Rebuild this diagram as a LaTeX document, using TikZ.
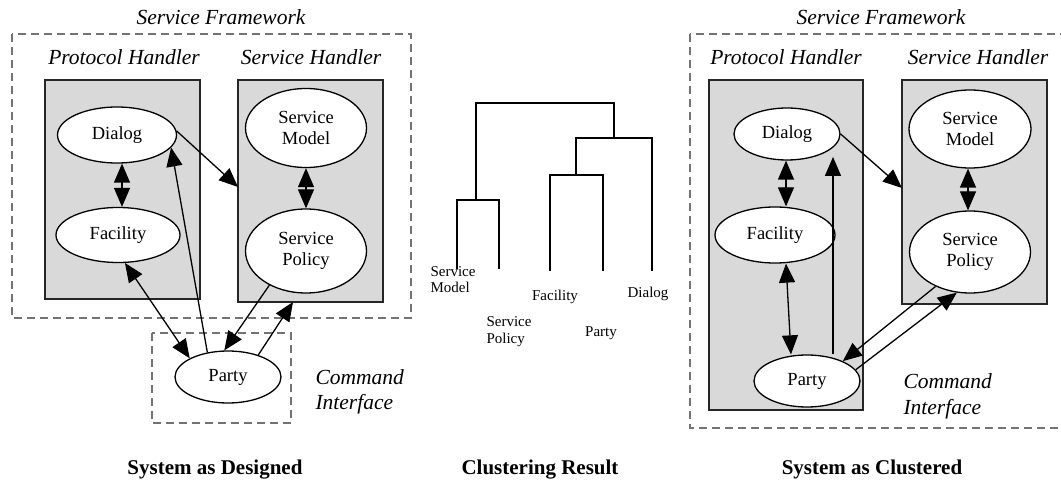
\documentclass[tikz,border=0pt]{standalone}
\usepackage{fontspec}
\setmainfont{Liberation Serif}
\usetikzlibrary{shapes.geometric,arrows.meta}

\tikzset{
  frame/.style={draw=black!55, dashed, dash pattern=on 8pt off 5pt, line width=1.1pt},
  handler/.style={draw=black!85, fill=black!15, line width=1.6pt},
  comp/.style={ellipse, draw, fill=white, line width=1.3pt, inner sep=0pt,
    align=center, font=\fontsize{18.5}{21}\selectfont},
  caption/.style={font=\fontsize{21.5}{25}\selectfont\itshape, anchor=base},
  heading/.style={font=\fontsize{21}{25}\selectfont\bfseries, anchor=base},
  leaf/.style={font=\fontsize{15}{17}\selectfont, align=left, anchor=base},
  tip/.tip={Triangle[length=19pt,width=16pt]},
  link/.style={line width=1.3pt, -tip},
  duallink/.style={line width=1.3pt, tip-tip},
  tree/.style={line width=1.5pt}
}

\begin{document}
\begin{tikzpicture}[x=1pt,y=-1pt]
\useasboundingbox[fill=white] (0,0) rectangle (1061,481);

% ---------------- system as designed ----------------
\draw[frame] (12,34) rectangle (411,318);
\node[caption] at (221,25) {Service Framework};
\node[caption] at (124,65) {Protocol Handler};
\node[caption] at (311,65) {Service Handler};
\node[handler, minimum width=155pt, minimum height=219pt] (phA) at (122.5,189.5) {};
\node[handler, minimum width=145pt, minimum height=222pt] (shA) at (310.5,191) {};
\draw[frame] (152,333) rectangle (291,423);
\node[caption, anchor=base west] at (312,384) {Command};
\node[caption, anchor=base west] at (312,409) {Interface};
\node[heading] at (215,474) {System as Designed};

\node[comp, minimum width=119pt, minimum height=56pt] (dlgA) at (117,135) {Dialog};
\node[comp, minimum width=124pt, minimum height=55pt] (facA) at (118,235) {Facility};
\node[comp, minimum width=121pt, minimum height=79pt] (smA) at (306,128) {Service\\Model};
\node[comp, minimum width=121pt, minimum height=84pt] (spA) at (306,251) {Service\\Policy};
\node[comp, minimum width=106pt, minimum height=52pt] (ptyA) at (228,377) {Party};

\coordinate (shAin) at (238,187);
\coordinate (shAbot) at (293,302);
\draw[duallink] (dlgA.south -| 122,0) -- (facA.north -| 122,0);
\draw[duallink] (smA.south) -- (spA.north);
\draw[link] (dlgA.4) -- (shAin);
\draw[link] (ptyA.130) -- (dlgA.-13);
\draw[duallink] (facA.-76) -- (ptyA.154);
\draw[link] (spA.-137) -- (ptyA.98);
\draw[link] (ptyA.36) -- (shAbot);

% ---------------- clustering result ----------------
\draw[tree] (476,200) -- (476,103) -- (614,103) -- (614,138);
\draw[tree] (457,269) -- (457,200) -- (499,200) -- (499,269);
\draw[tree] (576,175) -- (576,138) -- (652,138) -- (652,271);
\draw[tree] (550,271) -- (550,175) -- (603,175) -- (603,271);
\node[leaf, anchor=base west] (lsm) at (427,293) {Service\\Model};
\node[leaf, anchor=base west] (lsp) at (483,343) {Service\\Policy};
\node[leaf] (lfac) at (555,301) {Facility};
\node[leaf] (lpty) at (601,337) {Party};
\node[leaf] (ldlg) at (648,298) {Dialog};
\node[heading] at (540,474) {Clustering Result};

% ---------------- system as clustered ----------------
\draw[frame] (690,34) rectangle (1070,428);
\node[caption] at (881,25) {Service Framework};
\node[caption] at (786,65) {Protocol Handler};
\node[caption] at (978,65) {Service Handler};
\node[handler, minimum width=154pt, minimum height=330pt] (phB) at (786,245) {};
\node[handler, minimum width=145pt, minimum height=224pt] (shB) at (974.5,192) {};
\node[caption, anchor=base west] at (900,388) {Command};
\node[caption, anchor=base west] at (900,414) {Interface};
\node[heading] at (872,474) {System as Clustered};

\node[comp, minimum width=106pt, minimum height=52pt] (dlgB) at (787,134) {Dialog};
\node[comp, minimum width=120pt, minimum height=56pt] (facB) at (775,235) {Facility};
\node[comp, minimum width=122pt, minimum height=78pt] (smB) at (970,129) {Service\\Model};
\node[comp, minimum width=121pt, minimum height=82pt] (spB) at (970,252) {Service\\Policy};
\node[comp, minimum width=106pt, minimum height=52pt] (ptyB) at (807,381) {Party};

\coordinate (shBin) at (902,188);
\draw[duallink] (dlgB.south -| 786,0) -- (facB.north -| 786,0);
\draw[duallink] (smB.south -| 968,0) -- (spB.north -| 968,0);
\draw[link] (dlgB.east) -- (shBin);
\draw[link] (ptyB.north -| 833,0) -- (dlgB.-40 -| 833,0);
\draw[duallink] (facB.south -| 786,0) -- (ptyB.north -| 791,0);
\draw[link] (spB.-135) -- (ptyB.29);
\draw[link] (ptyB.13) -- (spB.-108);
\end{tikzpicture}
\end{document}
